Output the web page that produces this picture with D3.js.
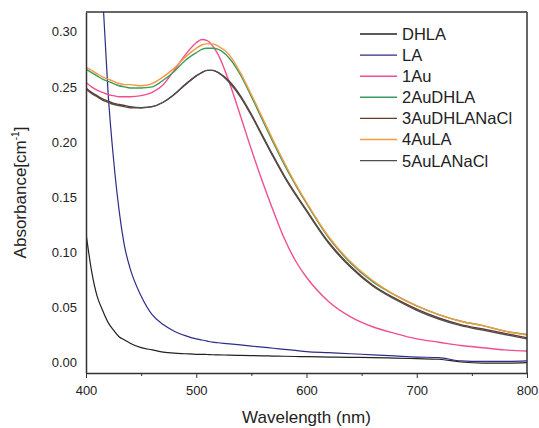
<!DOCTYPE html>
<html>
<head>
<meta charset="utf-8">
<script src="https://cdn.jsdelivr.net/npm/d3@7/dist/d3.min.js"></script>
<style>
    body { margin: 0; background: #fff; }
    svg { display: block; font-family: "Liberation Sans", Arial, sans-serif; }
    .axis path, .axis line { stroke: #333; }
    .axis text { fill: #222; font-size: 13px; font-family: "Liberation Sans", Arial, sans-serif; }
</style>
</head>
<body>
<div id="chart"></div>
<script>
// wavelength grid (nm) used for every series
var wavelengths = [400, 405, 410, 415, 420, 425, 430, 435, 440, 450, 460, 470, 480, 490, 500, 505, 510, 515, 520,
    530, 540, 550, 560, 570, 580, 590, 600, 620, 640, 660, 680, 700, 720, 740, 760, 780, 800];

var seriesNames = ['DHLA', 'LA', '1Au', '2AuDHLA', '3AuDHLANaCl', '4AuLA', '5AuLANaCl'];
var seriesColors = ['#222222', '#2d2d86', '#ef4f90', '#3d9a5e', '#6a3a2a', '#f39a3e', '#4e4e4e'];

var dhla = [0.117, 0.083, 0.060, 0.047, 0.036, 0.029, 0.023, 0.020, 0.017, 0.013, 0.011, 0.009, 0.008, 0.0075, 0.007,
    0.007, 0.0068, 0.0066, 0.0065, 0.0062, 0.006, 0.0058, 0.0056, 0.0054, 0.0052, 0.005, 0.0048, 0.0045, 0.0042,
    0.004, 0.0035, 0.003, 0.0025, 0.0, -0.001, -0.001, -0.0005];
var la = [0.80, 0.62, 0.45, 0.335, 0.245, 0.184, 0.138, 0.105, 0.085, 0.060, 0.043, 0.034, 0.028, 0.024, 0.021,
    0.020, 0.019, 0.018, 0.0175, 0.0165, 0.0155, 0.0145, 0.0135, 0.0125, 0.0115, 0.0105, 0.0095, 0.0085, 0.0075,
    0.0065, 0.0055, 0.0045, 0.004, 0.001, 0.0005, 0.0005, 0.001];
var au1 = [0.254, 0.250, 0.247, 0.245, 0.243, 0.242, 0.241, 0.241, 0.241, 0.242, 0.245, 0.252, 0.265, 0.279, 0.290,
    0.293, 0.292, 0.287, 0.279, 0.254, 0.224, 0.193, 0.164, 0.137, 0.112, 0.092, 0.077, 0.055, 0.041,
    0.032, 0.026, 0.021, 0.018, 0.015, 0.013, 0.011, 0.010];
var au2dhla = [0.266, 0.263, 0.260, 0.257, 0.255, 0.253, 0.251, 0.250, 0.249, 0.249, 0.250, 0.256, 0.264, 0.274, 0.281,
    0.284, 0.285, 0.285, 0.284, 0.276, 0.261, 0.241, 0.220, 0.199, 0.179, 0.161, 0.144, 0.113, 0.090,
    0.073, 0.061, 0.051, 0.043, 0.037, 0.033, 0.028, 0.025];
var au3dhlanacl = [0.249, 0.245, 0.242, 0.239, 0.237, 0.235, 0.234, 0.233, 0.232, 0.231, 0.232, 0.236, 0.243, 0.252, 0.260,
    0.263, 0.265, 0.265, 0.263, 0.255, 0.242, 0.225, 0.206, 0.187, 0.169, 0.153, 0.138, 0.109, 0.087,
    0.070, 0.058, 0.048, 0.040, 0.034, 0.030, 0.026, 0.022];
var au4la = [0.268, 0.265, 0.262, 0.259, 0.257, 0.255, 0.253, 0.252, 0.252, 0.251, 0.253, 0.259, 0.267, 0.277, 0.285,
    0.288, 0.289, 0.289, 0.287, 0.279, 0.263, 0.243, 0.222, 0.201, 0.181, 0.162, 0.145, 0.114, 0.091,
    0.074, 0.061, 0.051, 0.043, 0.037, 0.033, 0.028, 0.0245];
var au5lanacl = [0.248, 0.244, 0.241, 0.238, 0.236, 0.234, 0.233, 0.232, 0.231, 0.231, 0.232, 0.236, 0.243, 0.252, 0.260,
    0.263, 0.265, 0.265, 0.263, 0.254, 0.241, 0.224, 0.205, 0.186, 0.168, 0.152, 0.137, 0.108, 0.086,
    0.069, 0.057, 0.047, 0.039, 0.033, 0.029, 0.025, 0.021];

var seriesValues = [dhla, la, au1, au2dhla, au3dhlanacl, au4la, au5lanacl];

var xMajorTicks = [400, 500, 600, 700, 800];
var xMinorTicks = [450, 550, 650, 750];
var yTicks = [0.00, 0.05, 0.10, 0.15, 0.20, 0.25, 0.30];

var width = 539, height = 428;
var margin = { top: 12, right: 12, bottom: 55, left: 86 };
var innerW = width - margin.left - margin.right;
var innerH = height - margin.top - margin.bottom;

var svg = d3.select("#chart").append("svg")
    .attr("width", width)
    .attr("height", height);

var x = d3.scaleLinear().domain([400, 800]).range([0, innerW]);
var y = d3.scaleLinear().domain([-0.01, 0.318]).range([innerH, 0]);

var g = svg.append("g").attr("transform", `translate(${margin.left},${margin.top})`);

g.append("clipPath").attr("id", "plot-clip")
    .append("rect").attr("width", innerW).attr("height", innerH);

// curves
var line = d3.line()
    .x(function (d) { return x(d[0]); })
    .y(function (d) { return y(d[1]); })
    .curve(d3.curveMonotoneX);

var curves = g.append("g").attr("clip-path", "url(#plot-clip)");
seriesNames.forEach(function (name, i) {
    var pts = wavelengths.map(function (w, j) { return [w, seriesValues[i][j]]; });
    curves.append("path")
        .datum(pts)
        .attr("fill", "none")
        .attr("stroke", seriesColors[i])
        .attr("stroke-width", i >= 2 ? 1.4 : 1.2)
        .attr("d", line);
});

// axes
g.append("g").attr("class", "axis")
    .attr("transform", `translate(0,${innerH})`)
    .call(d3.axisBottom(x).tickValues(xMajorTicks).tickSize(5).tickPadding(8).tickSizeOuter(0));
g.append("g").attr("class", "axis")
    .attr("transform", `translate(0,${innerH})`)
    .call(d3.axisBottom(x).tickValues(xMinorTicks).tickSize(3).tickFormat("").tickSizeOuter(0))
    .select(".domain").remove();

g.append("g").attr("class", "axis")
    .call(d3.axisLeft(y).tickValues(yTicks).tickSize(0).tickPadding(9).tickFormat(d3.format(".2f")));

g.selectAll(".axis .domain").attr("stroke-width", 1.5);

// frame top/right
g.append("line").attr("x1", 0).attr("x2", innerW).attr("y1", 0).attr("y2", 0)
    .attr("stroke", "#333").attr("stroke-width", 1.5);
g.append("line").attr("x1", innerW).attr("x2", innerW).attr("y1", 0).attr("y2", innerH)
    .attr("stroke", "#333").attr("stroke-width", 1.5);

// axis titles
svg.append("text")
    .attr("x", margin.left + innerW / 2)
    .attr("y", 423)
    .attr("text-anchor", "middle")
    .attr("font-size", 17)
    .attr("fill", "#222")
    .text("Wavelength (nm)");

var yTitle = svg.append("text")
    .attr("transform", `translate(26,${margin.top + innerH / 2}) rotate(-90)`)
    .attr("text-anchor", "middle")
    .attr("font-size", 17)
    .attr("fill", "#222");
yTitle.append("tspan").text("Absorbance[cm");
yTitle.append("tspan").attr("font-size", 10).attr("dy", -7).text("-1");
yTitle.append("tspan").attr("dy", 7).text("]");

// legend
var legend = svg.selectAll("g.legend")
    .data(seriesNames)
    .enter().append("g")
    .attr("class", "legend")
    .attr("transform", function (d, i) { return `translate(360,${34 + i * 21.1})`; });

legend.append("line")
    .attr("x1", 0).attr("x2", 37)
    .attr("stroke", function (d, i) { return seriesColors[i]; })
    .attr("stroke-width", 1.4);

legend.append("text")
    .attr("x", 42)
    .attr("dy", "0.36em")
    .attr("font-size", 16.5)
    .attr("fill", "#222")
    .text(function (d) { return d; });
</script>
</body>
</html>
